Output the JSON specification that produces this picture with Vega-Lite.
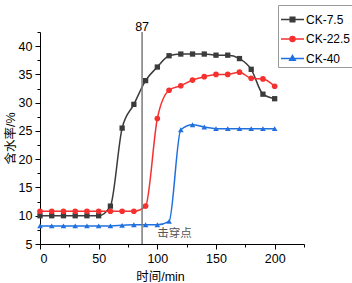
{
  "$schema": "https://vega.github.io/schema/vega-lite/v6.json",
  "width": 264,
  "height": 212,
  "autosize": {"type": "none"},
  "padding": {"left": 40, "top": 32, "right": 48, "bottom": 39},
  "background": "white",
  "config": {
    "view": {"stroke": null},
    "font": "Liberation Sans, Noto Sans CJK SC",
    "axis": {"grid": false, "domainColor": "#000", "tickColor": "#000", "labelColor": "#000", "titleColor": "#000", "labelFont": "Liberation Sans", "labelFontSize": 12.5, "titleFont": "Liberation Sans, Noto Sans CJK SC", "titleFontSize": 12.5, "titleFontWeight": "normal"}
  },
  "datasets": {
    "series": [
      {"t": 0, "v": 10.0, "s": "CK-7.5"}, {"t": 10, "v": 10.0, "s": "CK-7.5"}, {"t": 20, "v": 10.0, "s": "CK-7.5"}, {"t": 30, "v": 10.0, "s": "CK-7.5"}, {"t": 40, "v": 10.0, "s": "CK-7.5"}, {"t": 50, "v": 10.0, "s": "CK-7.5"}, {"t": 60, "v": 11.7, "s": "CK-7.5"}, {"t": 70, "v": 25.5, "s": "CK-7.5"}, {"t": 80, "v": 29.7, "s": "CK-7.5"}, {"t": 90, "v": 33.9, "s": "CK-7.5"}, {"t": 100, "v": 36.3, "s": "CK-7.5"}, {"t": 110, "v": 38.3, "s": "CK-7.5"}, {"t": 120, "v": 38.6, "s": "CK-7.5"}, {"t": 130, "v": 38.6, "s": "CK-7.5"}, {"t": 140, "v": 38.6, "s": "CK-7.5"}, {"t": 150, "v": 38.4, "s": "CK-7.5"}, {"t": 160, "v": 38.4, "s": "CK-7.5"}, {"t": 170, "v": 37.8, "s": "CK-7.5"}, {"t": 180, "v": 35.9, "s": "CK-7.5"}, {"t": 190, "v": 31.5, "s": "CK-7.5"}, {"t": 200, "v": 30.7, "s": "CK-7.5"},
      {"t": 0, "v": 10.8, "s": "CK-22.5"}, {"t": 10, "v": 10.8, "s": "CK-22.5"}, {"t": 20, "v": 10.8, "s": "CK-22.5"}, {"t": 30, "v": 10.8, "s": "CK-22.5"}, {"t": 40, "v": 10.8, "s": "CK-22.5"}, {"t": 50, "v": 10.8, "s": "CK-22.5"}, {"t": 60, "v": 10.8, "s": "CK-22.5"}, {"t": 70, "v": 10.8, "s": "CK-22.5"}, {"t": 80, "v": 10.8, "s": "CK-22.5"}, {"t": 90, "v": 11.7, "s": "CK-22.5"}, {"t": 100, "v": 27.2, "s": "CK-22.5"}, {"t": 110, "v": 32.2, "s": "CK-22.5"}, {"t": 120, "v": 33.0, "s": "CK-22.5"}, {"t": 130, "v": 34.0, "s": "CK-22.5"}, {"t": 140, "v": 34.6, "s": "CK-22.5"}, {"t": 150, "v": 35.0, "s": "CK-22.5"}, {"t": 160, "v": 35.0, "s": "CK-22.5"}, {"t": 170, "v": 35.4, "s": "CK-22.5"}, {"t": 180, "v": 34.3, "s": "CK-22.5"}, {"t": 190, "v": 34.2, "s": "CK-22.5"}, {"t": 200, "v": 32.9, "s": "CK-22.5"},
      {"t": 0, "v": 8.2, "s": "CK-40"}, {"t": 10, "v": 8.2, "s": "CK-40"}, {"t": 20, "v": 8.2, "s": "CK-40"}, {"t": 30, "v": 8.2, "s": "CK-40"}, {"t": 40, "v": 8.2, "s": "CK-40"}, {"t": 50, "v": 8.2, "s": "CK-40"}, {"t": 60, "v": 8.2, "s": "CK-40"}, {"t": 70, "v": 8.3, "s": "CK-40"}, {"t": 80, "v": 8.4, "s": "CK-40"}, {"t": 90, "v": 8.4, "s": "CK-40"}, {"t": 100, "v": 8.4, "s": "CK-40"}, {"t": 110, "v": 9.0, "s": "CK-40"}, {"t": 120, "v": 25.2, "s": "CK-40"}, {"t": 130, "v": 26.1, "s": "CK-40"}, {"t": 140, "v": 25.7, "s": "CK-40"}, {"t": 150, "v": 25.4, "s": "CK-40"}, {"t": 160, "v": 25.4, "s": "CK-40"}, {"t": 170, "v": 25.4, "s": "CK-40"}, {"t": 180, "v": 25.4, "s": "CK-40"}, {"t": 190, "v": 25.4, "s": "CK-40"}, {"t": 200, "v": 25.4, "s": "CK-40"}
    ],
    "marker": [{"t": 87, "v": 42.5, "label": "87"}],
    "note": [{"t": 114.6, "v": 6.83, "label": "击穿点"}]
  },
  "resolve": {"axis": {"x": "independent", "y": "independent"}},
  "layer": [
    {
      "data": {"name": "series"},
      "mark": {"type": "line", "interpolate": "monotone", "strokeWidth": 1.5},
      "encoding": {
        "x": {"field": "t", "type": "quantitative", "scale": {"domain": [0, 225], "nice": false, "zero": false},
              "axis": {"orient": "bottom", "values": [0, 50, 100, 150, 200], "tickSize": 5, "labelPadding": 3, "title": "时间/min", "titleX": 120, "titlePadding": 6}},
        "y": {"field": "v", "type": "quantitative", "scale": {"domain": [5, 42.5], "nice": false, "zero": false},
              "axis": {"orient": "left", "values": [5, 10, 15, 20, 25, 30, 35, 40], "tickSize": 5, "labelPadding": 3, "title": "含水率/%", "titleX": -30, "titleBaseline": "middle"}},
        "color": {"field": "s", "type": "nominal",
          "scale": {"domain": ["CK-7.5", "CK-22.5", "CK-40"], "range": ["#3b3b3b", "#f5312f", "#2070e0"]},
          "legend": {"title": null, "orient": "none", "legendX": 238, "legendY": -27, "padding": 2, "strokeColor": "#999", "fillColor": "white",
            "labelFont": "Liberation Sans", "labelFontSize": 12, "labelColor": "#000", "labelOffset": 1, "rowPadding": 0.5, "symbolSize": 529, "symbolStrokeWidth": 1.5, "symbolOffset": 0,
            "encode": {"symbols": {"update": {
              "shape": {"signal": "datum.value === 'CK-7.5' ? 'M-1,0H1M-0.2,-0.2H0.2V0.2H-0.2Z' : datum.value === 'CK-22.5' ? 'M-1,0H1M-0.22,0A0.22,0.22 0 1,0 0.22,0A0.22,0.22 0 1,0 -0.22,0Z' : 'M-1,0H1M0,-0.26L0.24,0.16L-0.24,0.16Z'"},
              "fill": {"scale": "color", "field": "value"},
              "stroke": {"scale": "color", "field": "value"},
              "opacity": {"value": 1}
            }}}}
        }
      }
    },
    {
      "data": {"name": "series"},
      "transform": [{"filter": "datum.s === 'CK-7.5'"}],
      "mark": {"type": "point", "filled": true, "size": 28, "opacity": 1, "shape": "square"},
      "encoding": {
        "x": {"field": "t", "type": "quantitative", "scale": {"domain": [0, 225], "nice": false, "zero": false},
              "axis": {"orient": "bottom", "values": [25, 75, 125, 175, 225], "tickSize": 3, "labels": false, "domain": false, "title": null}},
        "y": {"field": "v", "type": "quantitative", "scale": {"domain": [5, 42.5], "nice": false, "zero": false},
              "axis": {"orient": "left", "values": [7.5, 12.5, 17.5, 22.5, 27.5, 32.5, 37.5, 42.5], "tickSize": 3, "labels": false, "domain": false, "title": null}},
        "color": {"field": "s", "type": "nominal",
          "scale": {"domain": ["CK-7.5", "CK-22.5", "CK-40"], "range": ["#3b3b3b", "#f5312f", "#2070e0"]}, "legend": null}
      }
    },
    {
      "data": {"name": "series"},
      "transform": [{"filter": "datum.s === 'CK-22.5'"}],
      "mark": {"type": "point", "filled": true, "size": 32, "opacity": 1, "shape": "circle"},
      "encoding": {
        "x": {"field": "t", "type": "quantitative", "scale": {"domain": [0, 225], "nice": false, "zero": false}, "axis": null},
        "y": {"field": "v", "type": "quantitative", "scale": {"domain": [5, 42.5], "nice": false, "zero": false}, "axis": null},
        "color": {"field": "s", "type": "nominal",
          "scale": {"domain": ["CK-7.5", "CK-22.5", "CK-40"], "range": ["#3b3b3b", "#f5312f", "#2070e0"]}, "legend": null}
      }
    },
    {
      "data": {"name": "series"},
      "transform": [{"filter": "datum.s === 'CK-40'"}],
      "mark": {"type": "point", "filled": true, "size": 32, "opacity": 1, "shape": "triangle-up"},
      "encoding": {
        "x": {"field": "t", "type": "quantitative", "scale": {"domain": [0, 225], "nice": false, "zero": false}, "axis": null},
        "y": {"field": "v", "type": "quantitative", "scale": {"domain": [5, 42.5], "nice": false, "zero": false}, "axis": null},
        "color": {"field": "s", "type": "nominal",
          "scale": {"domain": ["CK-7.5", "CK-22.5", "CK-40"], "range": ["#3b3b3b", "#f5312f", "#2070e0"]}, "legend": null}
      }
    },
    {
      "data": {"name": "marker"},
      "mark": {"type": "rule", "color": "#7a7a7a", "strokeWidth": 1.5},
      "encoding": {
        "x": {"field": "t", "type": "quantitative", "scale": {"domain": [0, 225], "nice": false, "zero": false}, "axis": null}
      }
    },
    {
      "data": {"name": "marker"},
      "mark": {"type": "text", "font": "Liberation Sans", "fontSize": 12.5, "color": "#000", "baseline": "alphabetic", "dy": -1},
      "encoding": {
        "x": {"field": "t", "type": "quantitative", "scale": {"domain": [0, 225], "nice": false, "zero": false}, "axis": null},
        "y": {"field": "v", "type": "quantitative", "scale": {"domain": [5, 42.5], "nice": false, "zero": false}, "axis": null},
        "text": {"field": "label"}
      }
    },
    {
      "data": {"name": "note"},
      "mark": {"type": "text", "font": "Noto Sans CJK SC", "fontSize": 11.5, "color": "#555", "baseline": "middle"},
      "encoding": {
        "x": {"field": "t", "type": "quantitative", "scale": {"domain": [0, 225], "nice": false, "zero": false}, "axis": null},
        "y": {"field": "v", "type": "quantitative", "scale": {"domain": [5, 42.5], "nice": false, "zero": false}, "axis": null},
        "text": {"field": "label"}
      }
    }
  ]
}
